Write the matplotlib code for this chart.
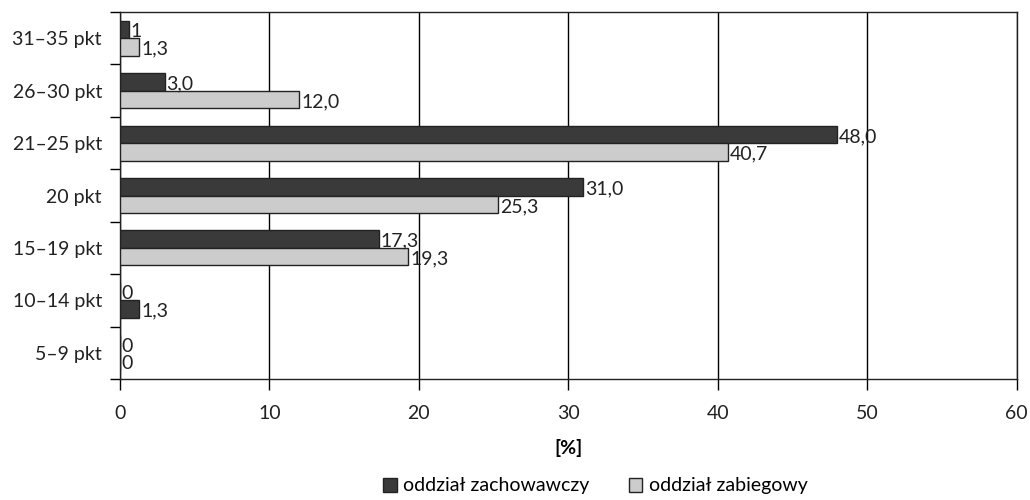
import matplotlib.pyplot as plt
import numpy as np
from matplotlib.patches import Patch

plt.rcParams['font.family'] = ['Lato', 'DejaVu Sans']

# dane
kategorie = ['31–35 pkt', '26–30 pkt', '21–25 pkt', '20 pkt', '15–19 pkt', '10–14 pkt', '5–9 pkt']
zachowawczy = [0.6, 3.0, 48.0, 31.0, 17.3, 0, 0]
zabiegowy = [1.3, 12.0, 40.7, 25.3, 19.3, 1.3, 0]
etykiety_zach = ['1', '3,0', '48,0', '31,0', '17,3', '0', '0']
etykiety_zab = ['1,3', '12,0', '40,7', '25,3', '19,3', '1,3', '0']

ciemny = '#3a3a3a'
jasny = '#cccccc'
# w oryginale dolny słupek dla 10-14 pkt jest ciemny
kolory_zab = [jasny, jasny, jasny, jasny, jasny, ciemny, jasny]

fig = plt.figure(figsize=(10.3, 5), dpi=100)
ax = fig.add_axes([0.1165, 0.242, 0.8705, 0.734])

y = np.arange(len(kategorie))
h = 0.335
ax.barh(y - h / 2, zachowawczy, height=h, color=ciemny, edgecolor='#222222', linewidth=1, zorder=3)
ax.barh(y + h / 2, zabiegowy, height=h, color=kolory_zab, edgecolor='#222222', linewidth=1, zorder=3)

for i in range(len(kategorie)):
    ax.text(zachowawczy[i] + 0.12, y[i] - h / 2 + 0.04, etykiety_zach[i], va='center', ha='left',
            fontsize=14, color='#222222')
    ax.text(zabiegowy[i] + 0.12, y[i] + h / 2 + 0.04, etykiety_zab[i], va='center', ha='left',
            fontsize=14, color='#222222')

ax.set_ylim(len(kategorie) - 0.5, -0.5)
ax.set_xlim(0, 60)
ax.set_xticks(range(0, 61, 10))
ax.set_yticks(y)
ax.set_yticklabels(kategorie, fontsize=14, color='#222222')
ax.set_yticks(np.arange(-0.5, len(kategorie), 1), minor=True)
ax.tick_params(axis='y', which='major', length=0, pad=13)
ax.tick_params(axis='y', which='minor', length=7, width=1)
ax.tick_params(axis='x', length=8, width=1, pad=11, labelsize=14, labelcolor='#222222')
ax.grid(axis='x', color='black', linewidth=1, zorder=0)
for s in ax.spines.values():
    s.set_linewidth(1)
    s.set_color('#222222')

ax.set_xlabel('[%]', fontsize=14, fontweight='bold', labelpad=12)

uchwyty = [Patch(facecolor=ciemny, edgecolor='#222222', label='oddział zachowawczy'),
           Patch(facecolor=jasny, edgecolor='#222222', label='oddział zabiegowy')]
fig.legend(handles=uchwyty, loc='center', bbox_to_anchor=(0.578, 0.028), ncol=2, frameon=False,
           fontsize=14, handlelength=0.7, handleheight=0.7, handletextpad=0.35, columnspacing=2.0)

plt.savefig('out.png')
